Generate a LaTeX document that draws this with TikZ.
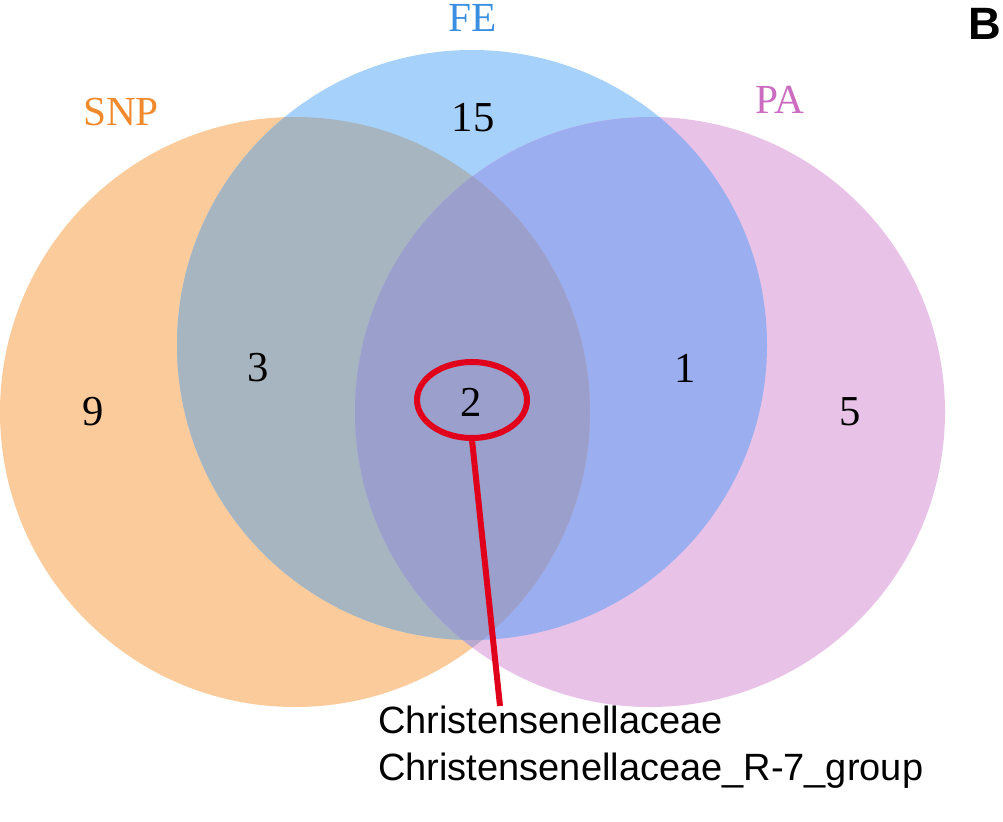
\documentclass[tikz,border=0pt]{standalone}
\usepackage{fontspec}
\setmainfont{Liberation Serif}
\setsansfont{Liberation Sans}
\begin{document}
\begin{tikzpicture}[x=0.75pt,y=-0.75pt,
  num/.style={font=\fontsize{32}{34}\selectfont},
  setlab/.style={font=\fontsize{31}{33}\selectfont},
  captxt/.style={font=\sffamily\fontsize{28.5}{34}\selectfont,anchor=base west,inner sep=0}]
\definecolor{cS}{HTML}{FBCB9B}
\definecolor{cF}{HTML}{A6D1FB}
\definecolor{cP}{HTML}{E9C3E7}
\definecolor{cSF}{HTML}{A6B5BF}
\definecolor{cFP}{HTML}{9AAEF0}
\definecolor{cSP}{HTML}{B9A9CF}
\definecolor{cSFP}{HTML}{9A9FCC}
\definecolor{rd}{HTML}{E0001B}
\definecolor{tS}{HTML}{F08A2C}
\definecolor{tF}{HTML}{3A8FE0}
\definecolor{tP}{HTML}{CB6CC0}
\useasboundingbox (0,0) rectangle (1003,821);
\fill[white] (0,0) rectangle (1003,821);
\def\snp{(295,412) circle (295)}
\def\fe{(472,345) circle (295)}
\def\pa{(650,412) circle (295)}
\fill[cS] \snp; \fill[cF] \fe; \fill[cP] \pa;
\begin{scope}\clip \snp; \fill[cSF] \fe; \end{scope}
\begin{scope}\clip \fe; \fill[cFP] \pa; \end{scope}
\begin{scope}\clip \snp; \fill[cSP] \pa; \end{scope}
\begin{scope}\clip \snp; \clip \fe; \fill[cSFP] \pa; \end{scope}
\node[setlab,text=tS] (lS) at (121,112) {SNP};
\node[setlab,text=tF] (lF) at (473,18) {FE};
\node[setlab,text=tP] (lP) at (780,100) {PA};
\node[num] (n15) at (473,118) {15};
\node[num] (n3) at (258,368) {3};
\node[num] (n9) at (93,412) {9};
\node[num] (n1) at (685,368) {1};
\node[num] (n5) at (850,412) {5};
\node[num] (n2) at (471,402) {2};
\draw[rd,line width=4.5pt] (472,400) ellipse (55 and 38);
\coordinate (e) at (472,440);
\coordinate (t) at (500,706);
\draw[rd,line width=4.5pt] (e) -- (t);
\node[captxt] (c1) at (378,733) {Christensenellaceae};
\node[captxt] (c2) at (378,780) {Christensenellaceae\_R-7\_group};
\node[font=\sffamily\bfseries\fontsize{34}{36}\selectfont,anchor=west,inner sep=0] (B) at (968,24) {B};
\end{tikzpicture}
\end{document}
